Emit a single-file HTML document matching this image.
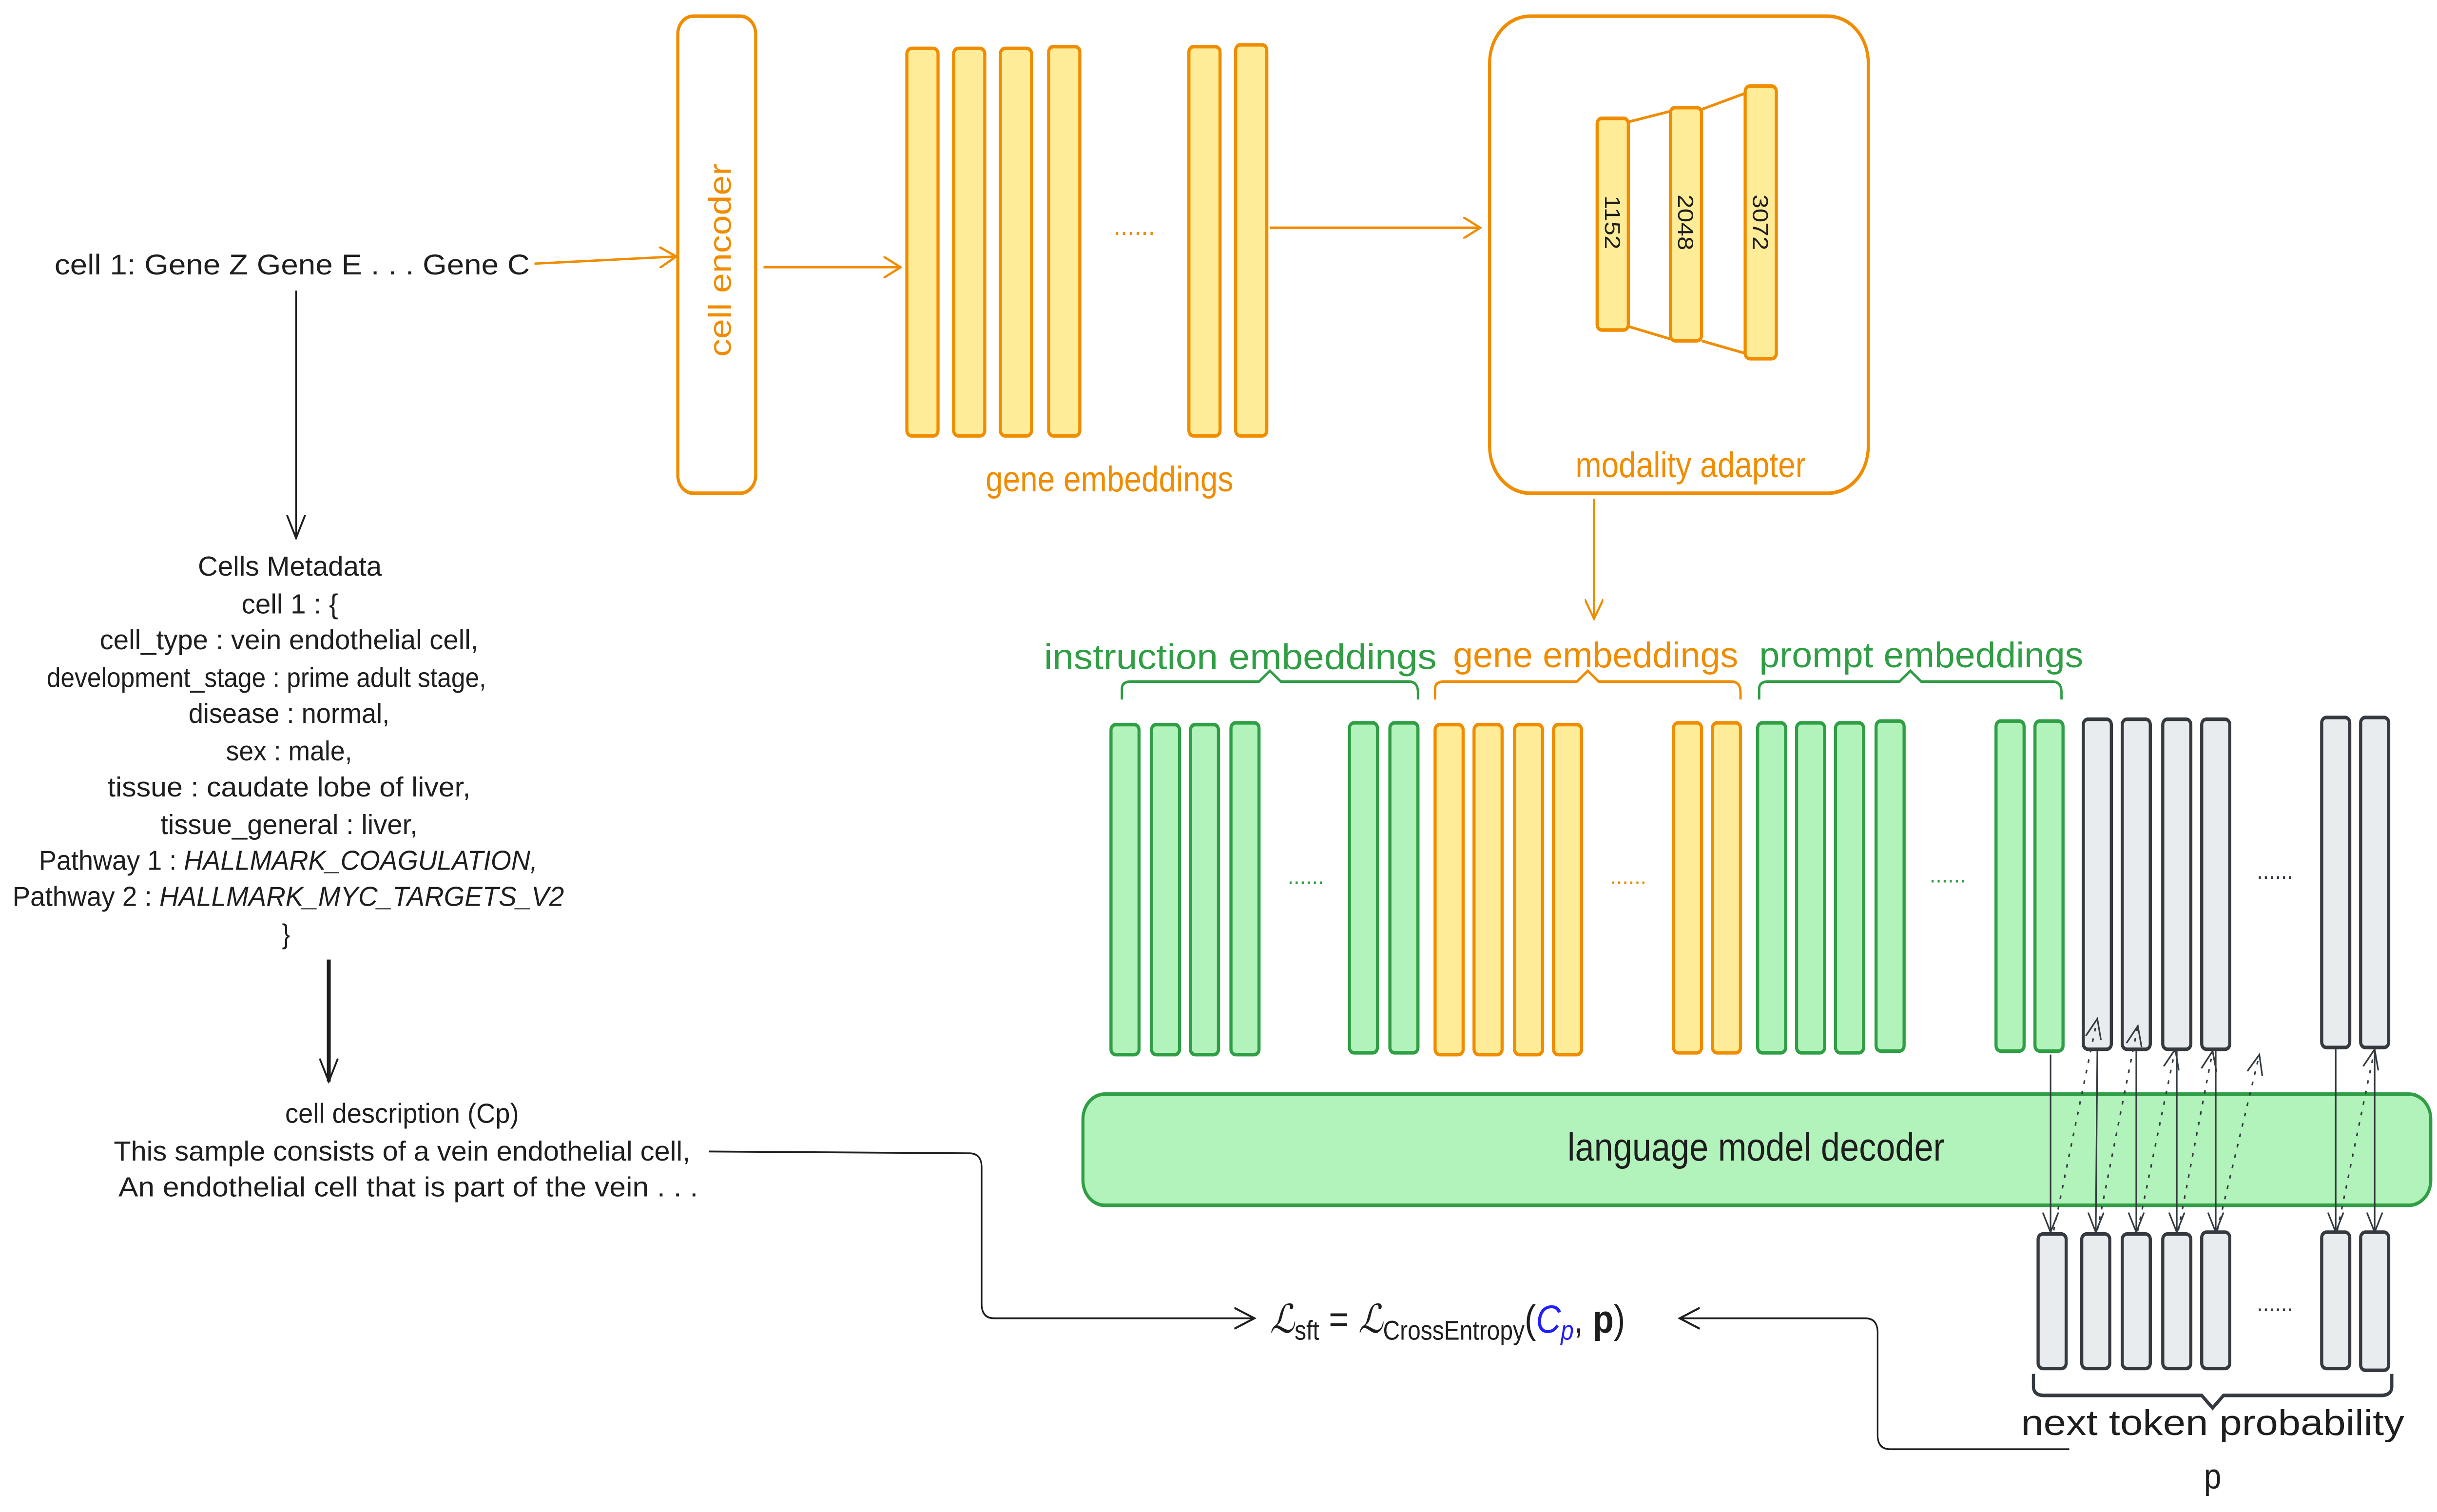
<!DOCTYPE html>
<html><head><meta charset="utf-8"><style>
html,body{margin:0;padding:0;background:#fff;width:100%;height:100%;overflow:hidden;}
svg{display:block;width:100vw;height:100vh;}
text{font-family:"Liberation Sans",sans-serif;}
</style></head><body>
<svg viewBox="0 0 1564 843" preserveAspectRatio="none" xmlns="http://www.w3.org/2000/svg">
<defs>
<marker id="ao" viewBox="0 0 12 12" refX="11" refY="6" markerWidth="12" markerHeight="12" markerUnits="userSpaceOnUse" orient="auto"><path d="M0,0 L11,6 L0,12" fill="none" stroke="#f08c00" stroke-width="1.3"/></marker>
<marker id="ak" viewBox="0 0 12 12" refX="11" refY="6" markerWidth="14" markerHeight="14" markerUnits="userSpaceOnUse" orient="auto"><path d="M0,1 L11,6 L0,11" fill="none" stroke="#1e1e1e" stroke-width="1"/></marker>
<marker id="ag" viewBox="0 0 12 12" refX="11" refY="6" markerWidth="12" markerHeight="12" markerUnits="userSpaceOnUse" orient="auto"><path d="M0,1 L11,6 L0,11" fill="none" stroke="#343a40" stroke-width="1"/></marker>
</defs>

<text x="35" y="153" font-size="16" fill="#1e1e1e" textLength="305" lengthAdjust="spacingAndGlyphs">cell 1: Gene Z Gene E  . . .  Gene C</text>
<line x1="343" y1="147" x2="434" y2="143" stroke="#f08c00" stroke-width="1.3" marker-end="url(#ao)"/>
<line x1="190" y1="162" x2="190" y2="300" stroke="#1e1e1e" stroke-width="1" marker-end="url(#ak)"/>

<rect x="435" y="9" width="50" height="266" rx="10" fill="#fff" stroke="#f08c00" stroke-width="2"/>
<text transform="translate(469,145) rotate(-90)" text-anchor="middle" font-size="20" fill="#f08c00">cell encoder</text>
<line x1="490" y1="149" x2="578" y2="149" stroke="#f08c00" stroke-width="1.3" marker-end="url(#ao)"/>

<g fill="#ffec99" stroke="#f08c00" stroke-width="2">
<rect x="582" y="27" width="20" height="216" rx="3"/>
<rect x="612" y="27" width="20" height="216" rx="3"/>
<rect x="642" y="27" width="20" height="216" rx="3"/>
<rect x="673" y="26" width="20" height="217" rx="3"/>
<rect x="763" y="26" width="20" height="217" rx="3"/>
<rect x="793" y="25" width="20" height="218" rx="3"/>
</g>
<text x="728" y="131" text-anchor="middle" font-size="16" fill="#f08c00">......</text>
<text x="712" y="274" text-anchor="middle" font-size="20" fill="#f08c00">gene embeddings</text>
<line x1="815" y1="127" x2="950" y2="127" stroke="#f08c00" stroke-width="1.5" marker-end="url(#ao)"/>

<rect x="956" y="9" width="243" height="266" rx="26" fill="#fff" stroke="#f08c00" stroke-width="2"/>
<g stroke="#f08c00" stroke-width="1.5" fill="none">
<line x1="1045" y1="68" x2="1072" y2="62"/><line x1="1092" y1="61" x2="1120" y2="52"/>
<line x1="1045" y1="182" x2="1072" y2="189"/><line x1="1092" y1="190" x2="1120" y2="197"/>
</g>
<g fill="#ffec99" stroke="#f08c00" stroke-width="2">
<rect x="1025" y="66" width="20" height="118" rx="3"/>
<rect x="1072" y="60" width="20" height="130" rx="3"/>
<rect x="1120" y="48" width="20" height="152" rx="3"/>
</g>
<g font-size="14" fill="#1e1e1e" text-anchor="middle">
<text transform="translate(1030,124) rotate(90)">1152</text>
<text transform="translate(1077,124) rotate(90)">2048</text>
<text transform="translate(1125,124) rotate(90)">3072</text>
</g>
<text x="1085" y="266" text-anchor="middle" font-size="20" fill="#f08c00">modality adapter</text>
<line x1="1023" y1="278" x2="1023" y2="345" stroke="#f08c00" stroke-width="1.5" marker-end="url(#ao)"/>

<text x="796" y="373" text-anchor="middle" font-size="20" fill="#2f9e44" textLength="252" lengthAdjust="spacingAndGlyphs">instruction embeddings</text>
<text x="1024" y="372" text-anchor="middle" font-size="20" fill="#f08c00" textLength="183" lengthAdjust="spacingAndGlyphs">gene embeddings</text>
<text x="1233" y="372" text-anchor="middle" font-size="20" fill="#2f9e44" textLength="208" lengthAdjust="spacingAndGlyphs">prompt embeddings</text>
<path d="M720,390 V384 Q720,380 726,380 H808 L815,374 L822,380 H904 Q910,380 910,386 V390" fill="none" stroke="#2f9e44" stroke-width="1.5"/>
<path d="M921,390 V384 Q921,380 927,380 H1012 L1019,374 L1026,380 H1111 Q1117,380 1117,386 V390" fill="none" stroke="#f08c00" stroke-width="1.5"/>
<path d="M1129,390 V384 Q1129,380 1135,380 H1219 L1226,374 L1233,380 H1317 Q1323,380 1323,386 V390" fill="none" stroke="#2f9e44" stroke-width="1.5"/>

<g fill="#b2f2bb" stroke="#2f9e44" stroke-width="2">
<rect x="713" y="404" width="18" height="184" rx="3"/><rect x="739" y="404" width="18" height="184" rx="3"/>
<rect x="764" y="404" width="18" height="184" rx="3"/><rect x="790" y="403" width="18" height="185" rx="3"/>
<rect x="866" y="403" width="18" height="184" rx="3"/><rect x="892" y="403" width="18" height="184" rx="3"/>
<rect x="1128" y="403" width="18" height="184" rx="3"/><rect x="1153" y="403" width="18" height="184" rx="3"/>
<rect x="1178" y="403" width="18" height="184" rx="3"/><rect x="1204" y="402" width="18" height="184" rx="3"/>
<rect x="1281" y="402" width="18" height="184" rx="3"/><rect x="1306" y="402" width="18" height="184" rx="3"/>
</g>
<g fill="#ffec99" stroke="#f08c00" stroke-width="2">
<rect x="921" y="404" width="18" height="184" rx="3"/><rect x="946" y="404" width="18" height="184" rx="3"/>
<rect x="972" y="404" width="18" height="184" rx="3"/><rect x="997" y="404" width="18" height="184" rx="3"/>
<rect x="1074" y="403" width="18" height="184" rx="3"/><rect x="1099" y="403" width="18" height="184" rx="3"/>
</g>
<g fill="#e9ecef" stroke="#343a40" stroke-width="2">
<rect x="1337" y="401" width="18" height="184" rx="3"/><rect x="1362" y="401" width="18" height="184" rx="3"/>
<rect x="1388" y="401" width="18" height="184" rx="3"/><rect x="1413" y="401" width="18" height="184" rx="3"/>
<rect x="1490" y="400" width="18" height="184" rx="3"/><rect x="1515" y="400" width="18" height="184" rx="3"/>
</g>
<text x="838" y="493" text-anchor="middle" font-size="14" fill="#2f9e44">......</text>
<text x="1045" y="493" text-anchor="middle" font-size="14" fill="#f08c00">......</text>
<text x="1250" y="492" text-anchor="middle" font-size="14" fill="#2f9e44">......</text>
<text x="1460" y="490" text-anchor="middle" font-size="14" fill="#343a40">......</text>

<rect x="695" y="610" width="865" height="62" rx="14" fill="#b2f2bb" stroke="#2f9e44" stroke-width="2"/>
<text x="1127" y="647" text-anchor="middle" font-size="22" fill="#1e1e1e">language model decoder</text>

<g fill="#e9ecef" stroke="#343a40" stroke-width="2">
<rect x="1308" y="688" width="18" height="75" rx="3"/><rect x="1336" y="688" width="18" height="75" rx="3"/>
<rect x="1362" y="688" width="18" height="75" rx="3"/><rect x="1388" y="688" width="18" height="75" rx="3"/>
<rect x="1413" y="687" width="18" height="76" rx="3"/><rect x="1490" y="687" width="18" height="76" rx="3"/>
<rect x="1515" y="687" width="18" height="77" rx="3"/>
</g>
<text x="1460" y="731" text-anchor="middle" font-size="14" fill="#343a40">......</text>

<g stroke="#343a40" stroke-width="1" marker-end="url(#ag)">
<line x1="1316" y1="588" x2="1316" y2="687"/>
<line x1="1346" y1="586" x2="1345" y2="687"/>
<line x1="1371" y1="586" x2="1371" y2="687"/>
<line x1="1397" y1="586" x2="1397" y2="687"/>
<line x1="1422" y1="586" x2="1422" y2="687"/>
<line x1="1499" y1="585" x2="1499" y2="687"/>
<line x1="1524" y1="585" x2="1524" y2="687"/>
</g>
<g stroke="#343a40" stroke-width="1" stroke-dasharray="2,4" marker-end="url(#ag)">
<line x1="1318" y1="686" x2="1346" y2="568"/>
<line x1="1346" y1="686" x2="1372" y2="572"/>
<line x1="1372" y1="686" x2="1396" y2="585"/>
<line x1="1398" y1="686" x2="1420" y2="586"/>
<line x1="1423" y1="686" x2="1450" y2="588"/>
<line x1="1500" y1="686" x2="1524" y2="585"/>
</g>

<path d="M1305,766 V773 Q1305,778 1312,778 H1413 L1420,785 L1427,778 H1528 Q1535,778 1535,773 V766" fill="none" stroke="#343a40" stroke-width="2"/>
<text x="1420" y="800" text-anchor="middle" font-size="20" fill="#1e1e1e" textLength="246" lengthAdjust="spacingAndGlyphs">next token probability</text>
<text x="1420" y="830" text-anchor="middle" font-size="20" fill="#1e1e1e">p</text>

<g font-size="15.5" fill="#1e1e1e">
<text x="127" y="321" textLength="118" lengthAdjust="spacingAndGlyphs">Cells Metadata</text>
<text x="155" y="342" textLength="62" lengthAdjust="spacingAndGlyphs">cell 1 : {</text>
<text x="64" y="362" textLength="243" lengthAdjust="spacingAndGlyphs">cell_type : vein endothelial cell,</text>
<text x="30" y="383" textLength="282" lengthAdjust="spacingAndGlyphs">development_stage : prime adult stage,</text>
<text x="121" y="403" textLength="129" lengthAdjust="spacingAndGlyphs">disease : normal,</text>
<text x="145" y="424" textLength="81" lengthAdjust="spacingAndGlyphs">sex : male,</text>
<text x="69" y="444" textLength="233" lengthAdjust="spacingAndGlyphs">tissue : caudate lobe of liver,</text>
<text x="103" y="465" textLength="165" lengthAdjust="spacingAndGlyphs">tissue_general : liver,</text>
<text x="25" y="485" textLength="320" lengthAdjust="spacingAndGlyphs">Pathway 1 : <tspan font-style="italic">HALLMARK_COAGULATION,</tspan></text>
<text x="8" y="505" textLength="354" lengthAdjust="spacingAndGlyphs">Pathway 2 : <tspan font-style="italic">HALLMARK_MYC_TARGETS_V2</tspan></text>
<text x="181" y="526">}</text>
</g>
<line x1="211" y1="535" x2="211" y2="603" stroke="#1e1e1e" stroke-width="2.5" marker-end="url(#ak)"/>
<g font-size="15.5" fill="#1e1e1e">
<text x="183" y="626" textLength="150" lengthAdjust="spacingAndGlyphs">cell description (Cp)</text>
<text x="73" y="647" textLength="370" lengthAdjust="spacingAndGlyphs">This sample consists of a vein endothelial cell,</text>
<text x="76" y="667" textLength="372" lengthAdjust="spacingAndGlyphs">An endothelial cell that is part of the vein . . .</text>
</g>

<path d="M455,642 L622,643 Q630,643 630,651 V727 Q630,735 638,735 L805,735" fill="none" stroke="#1e1e1e" stroke-width="1" marker-end="url(#ak)"/>
<path d="M1328,808 L1213,808 Q1205,808 1205,800 V743 Q1205,735 1197,735 L1078,735" fill="none" stroke="#1e1e1e" stroke-width="1" marker-end="url(#ak)"/>

<text x="815" y="743" font-family="Liberation Serif,serif" font-size="22" fill="#1e1e1e"><tspan font-style="italic">ℒ</tspan><tspan font-size="15" dy="4">sft</tspan><tspan dy="-4"> = </tspan><tspan font-style="italic">ℒ</tspan><tspan font-size="15" dy="4">CrossEntropy</tspan><tspan dy="-4">(</tspan><tspan font-style="italic" fill="#2020ff">C</tspan><tspan font-style="italic" fill="#2020ff" font-size="15" dy="4">p</tspan><tspan dy="-4">, </tspan><tspan font-weight="bold">p</tspan><tspan>)</tspan></text>
</svg>
</body></html>
